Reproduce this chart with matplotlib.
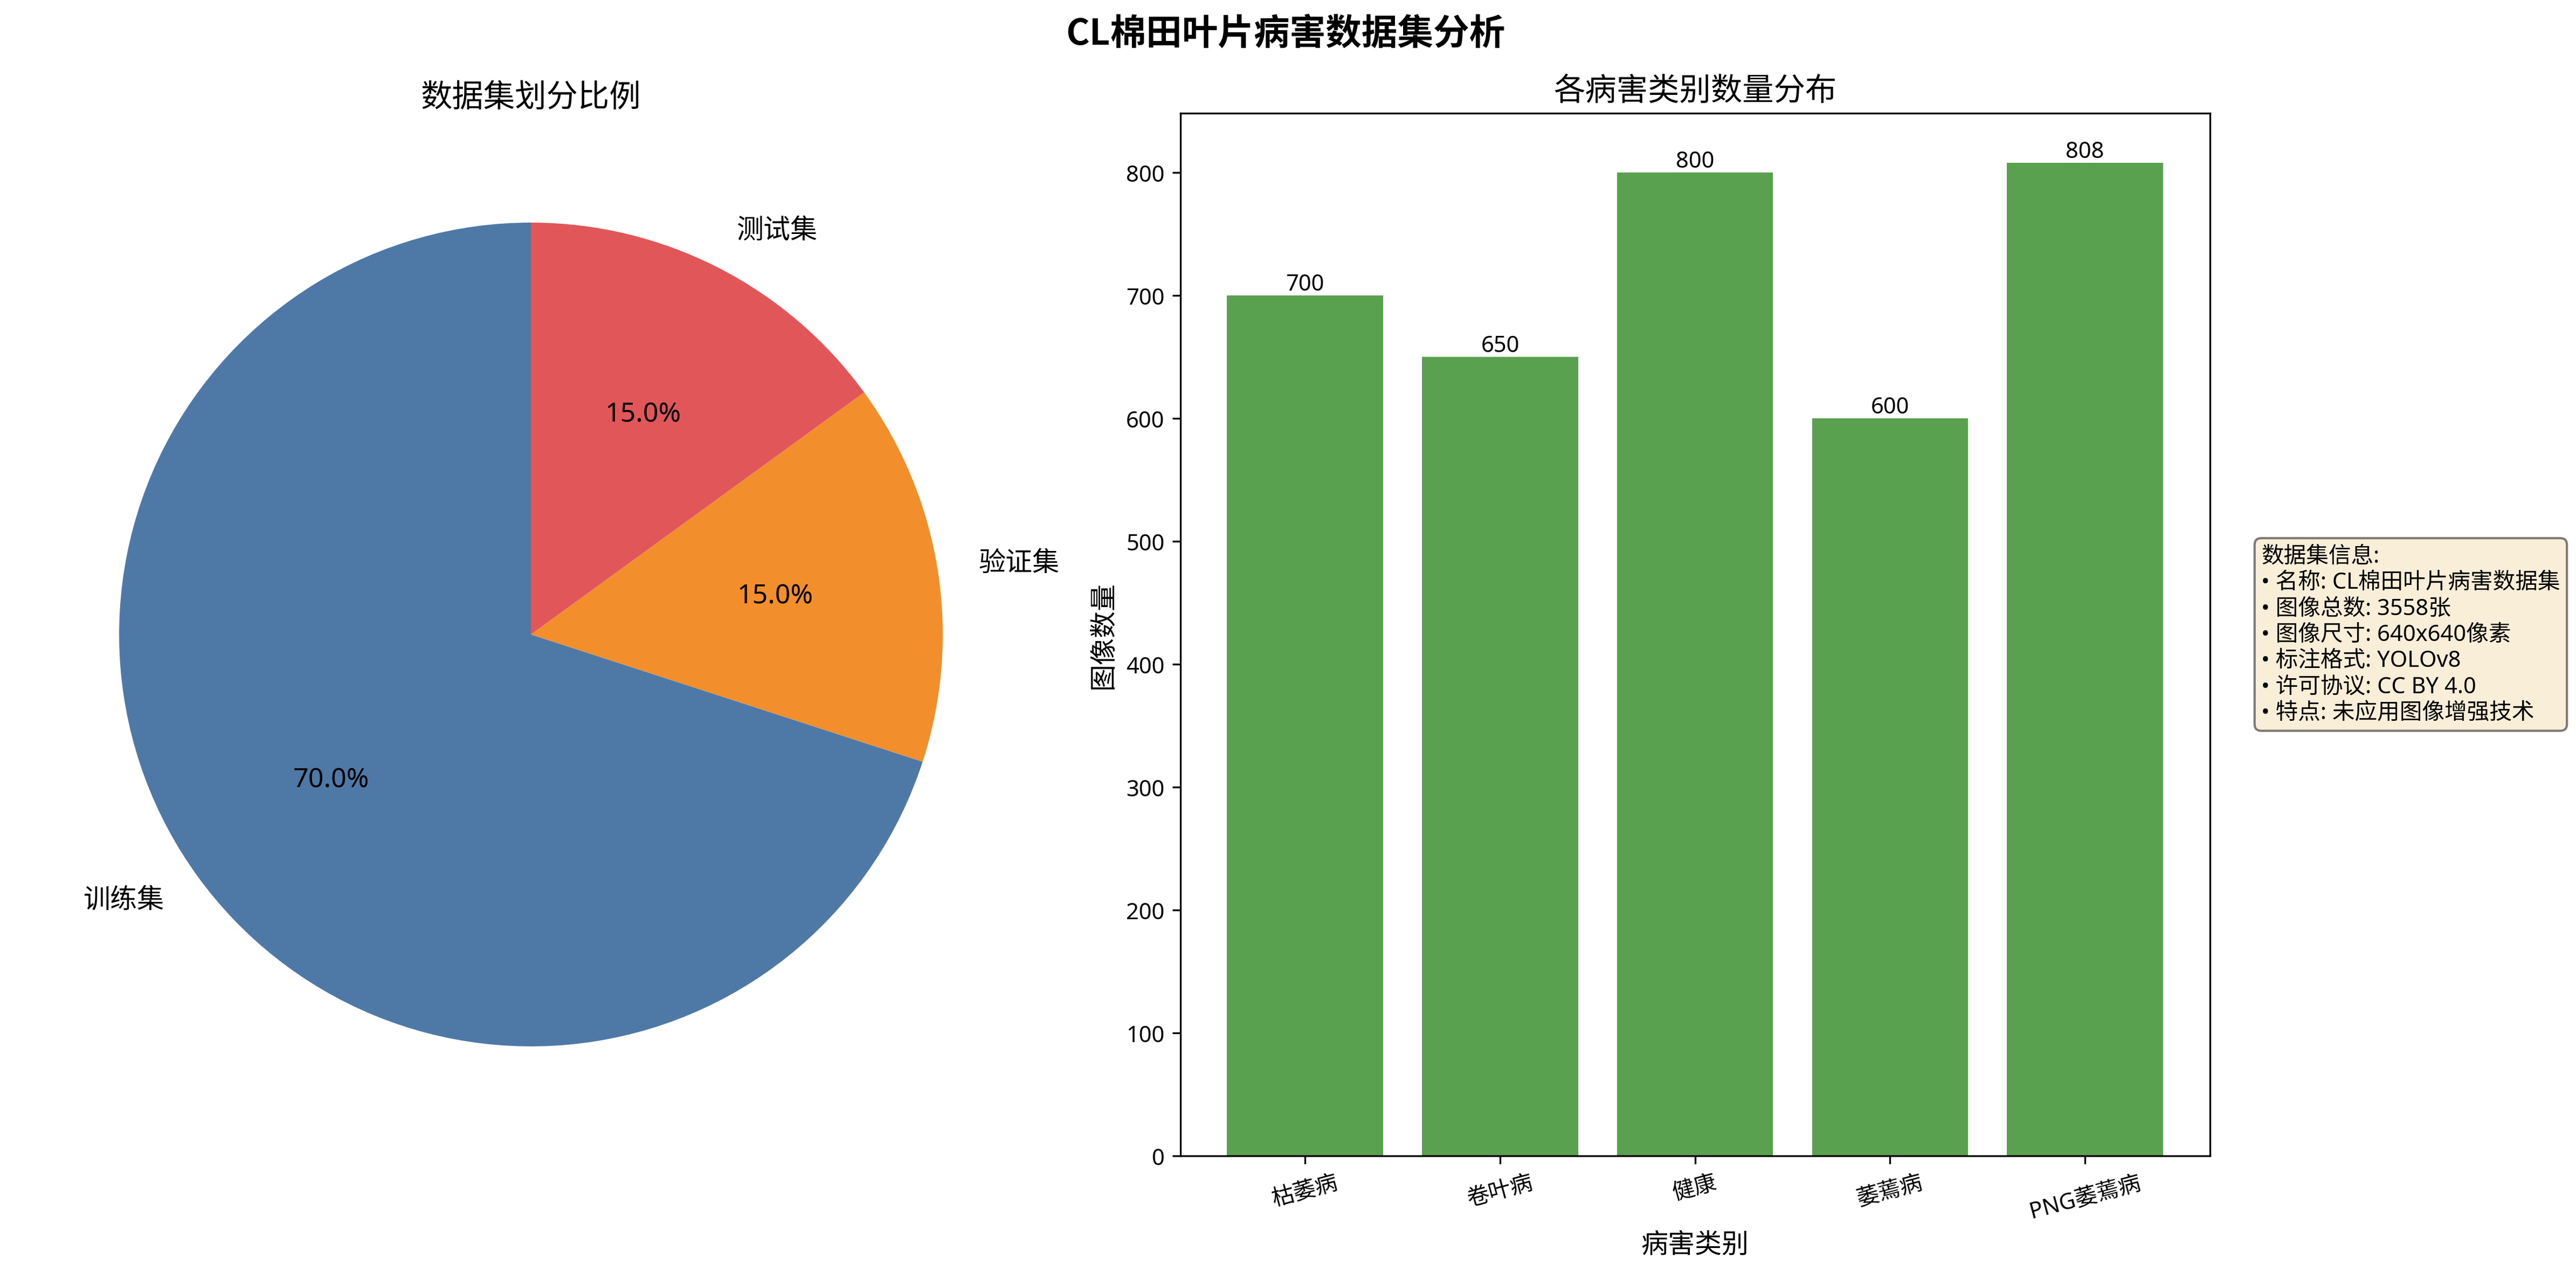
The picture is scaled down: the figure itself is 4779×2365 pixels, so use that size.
import matplotlib
matplotlib.use("Agg")
import matplotlib.pyplot as plt

plt.rcParams['font.family'] = ['Noto Sans', 'Noto Sans CJK SC', 'DejaVu Sans']
plt.rcParams['axes.unicode_minus'] = False

split_labels = ['训练集', '验证集', '测试集']
split_values = [70, 15, 15]
split_colors = ['#4e79a7', '#f28e2b', '#e15759']

categories = ['枯萎病', '卷叶病', '健康', '萎蔫病', 'PNG萎蔫病']
counts = [700, 650, 800, 600, 808]

info_lines = [
    '数据集信息:',
    '• 名称: CL棉田叶片病害数据集',
    '• 图像总数: 3558张',
    '• 图像尺寸: 640x640像素',
    '• 标注格式: YOLOv8',
    '• 许可协议: CC BY 4.0',
    '• 特点: 未应用图像增强技术',
]

fig, (ax1, ax2) = plt.subplots(1, 2, figsize=(16, 8))
fig.suptitle('CL棉田叶片病害数据集分析', fontsize=16, fontweight='bold',
             family=['Noto Sans CJK SC', 'DejaVu Sans'])

ax1.pie(split_values, labels=split_labels, colors=split_colors, autopct='%1.1f%%',
        startangle=90, textprops={'fontsize': 12})
ax1.set_title('数据集划分比例', fontsize=14)

bars = ax2.bar(categories, counts, color='#59a14f')
ax2.set_title('各病害类别数量分布', fontsize=14)
ax2.set_xlabel('病害类别', fontsize=12)
ax2.set_ylabel('图像数量', fontsize=12)
ax2.tick_params(axis='x', rotation=15)
for b, v in zip(bars, counts):
    ax2.text(b.get_x() + b.get_width() / 2, b.get_height(), f'{v}',
             ha='center', va='bottom', fontsize=10)

ax2.text(1.05, 0.5, '\n'.join(info_lines), transform=ax2.transAxes, fontsize=10,
         va='center', ha='left',
         bbox=dict(boxstyle='round', facecolor='wheat', alpha=0.5))

plt.tight_layout()
plt.savefig('out.png', dpi=300, bbox_inches='tight')
